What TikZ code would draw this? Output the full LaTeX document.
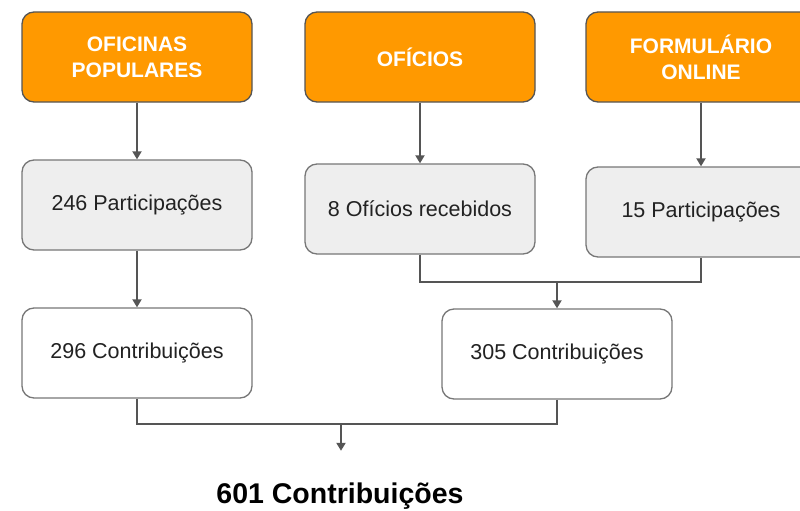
\documentclass[tikz,border=0pt]{standalone}
\usepackage{fontspec}
\setmainfont{Liberation Sans}
\usepackage{xcolor}
\usetikzlibrary{arrows.meta,positioning}
\definecolor{laranja}{HTML}{FF9900}
\definecolor{cinzaclaro}{HTML}{EEEEEE}
\definecolor{borda}{HTML}{777777}
\definecolor{linha}{HTML}{555555}
\definecolor{texto}{HTML}{222222}

\begin{document}
\begin{tikzpicture}[
  x=1pt, y=-1pt,
  caixa/.style={draw=borda, line width=1.3pt, rounded corners=12pt, align=center, minimum width=230pt, minimum height=90pt, text=texto, font=\fontsize{21.5}{25}\selectfont},
  origem/.style={caixa, fill=laranja, draw=linha, text=white, font=\fontsize{21}{26}\selectfont\bfseries},
  partic/.style={caixa, fill=cinzaclaro},
  contrib/.style={caixa, fill=white},
  lig/.style={draw=linha, line width=1.9pt},
  arr/.style={lig, -{Triangle[length=8pt, width=9pt]}}
]
\useasboundingbox (0,0) rectangle (800,511);
% origens
\node[origem] (oficinas) at (137,57) {OFICINAS\\POPULARES};
\node[origem] (oficios) at (420,57) {OFÍCIOS};
\node[origem] (form) at (701,57) {FORMULÁRIO\\ONLINE};
% participacoes
\node[partic] (p246) at (137,205) {246 Participações};
\node[partic] (receb) at (420,209) {8 Ofícios recebidos};
\node[partic] (p15) at (701,212) {15 Participações};
% contribuicoes
\node[contrib] (c296) at (137,353) {296 Contribuições};
\node[contrib] (c305) at (557,354) {305 Contribuições};
\node[anchor=base, text=black, font=\fontsize{28.5}{34}\selectfont\bfseries] (total) at (340,503) {601 Contribuições};
% juncoes
\coordinate (j1) at (557,282);
\coordinate (j2) at (341,424);
\draw[arr] (oficinas) -- (p246);
\draw[arr] (p246) -- (c296);
\draw[arr] (oficios) -- (receb);
\draw[arr] (form) -- (p15);
\draw[lig] (receb.south) |- (j1);
\draw[lig] (p15.south) |- (j1);
\draw[arr] (j1) -- (c305);
\draw[lig] (c296.south) |- (j2);
\draw[lig] (c305.south) |- (j2);
\draw[arr, shorten >=28pt] (j2) -- (j2 |- total.north);
\end{tikzpicture}
\end{document}
